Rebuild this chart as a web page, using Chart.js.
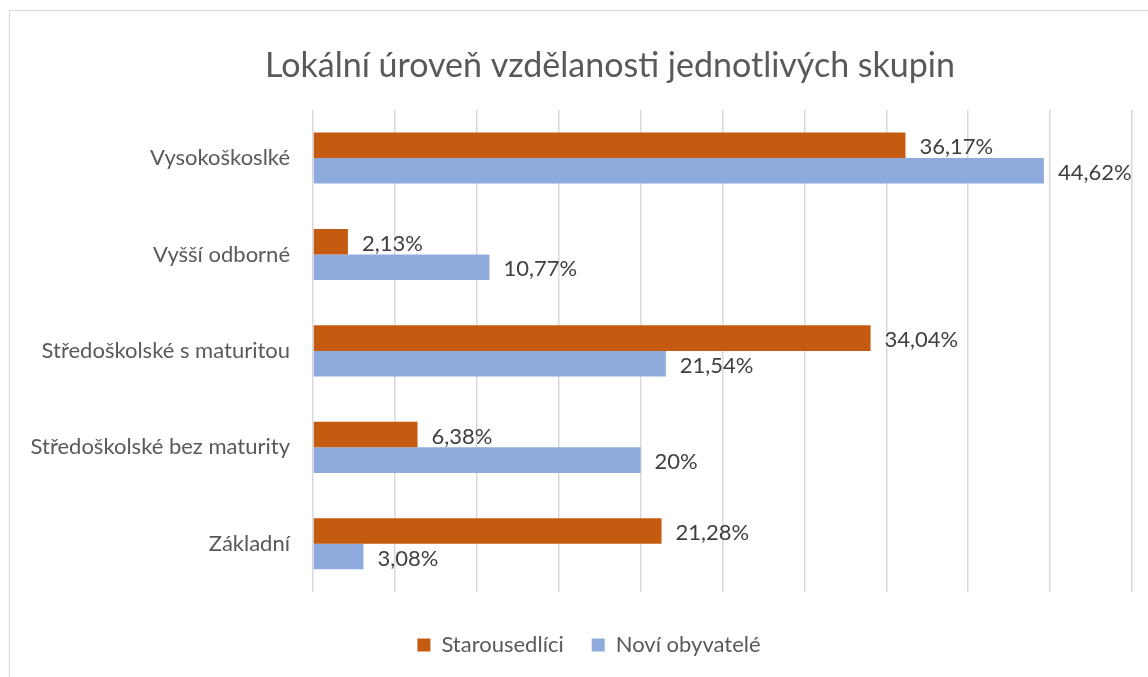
<!DOCTYPE html>
<html>
<head>
<meta charset="utf-8">
<script src="https://cdn.jsdelivr.net/npm/chart.js@4"></script>
<style>
  html, body { margin: 0; padding: 0; background: #fff; overflow: hidden; }
  #wrap { position: relative; width: 1148px; height: 677px; }
  #frame { position: absolute; left: 9px; top: 10px; width: 1200px; height: 700px; border: 1px solid #d9d9d9; box-sizing: border-box; }
  canvas { position: absolute; left: 0; top: 0; }
</style>
</head>
<body>
<div id="wrap">
  <div id="frame"></div>
  <canvas id="educationChart" width="1148" height="677"></canvas>
</div>
<script>
var categories = [
  "Vysokoškoslké",
  "Vyšší odborné",
  "Středoškolské s maturitou",
  "Středoškolské bez maturity",
  "Základní",
];
var oldResidents = [36.17, 2.13, 34.04, 6.38, 21.28];
var newResidents = [44.62, 10.77, 21.54, 20, 3.08];
var seriesNames = ["Starousedlíci", "Noví obyvatelé"];
var seriesColors = ["#c55a11", "#8faadc"];

var fontFamily = "Lato, 'Open Sans', sans-serif";

function formatPercent(value) {
  return String(value).replace(".", ",") + "%";
}

// draws the value next to the end of each bar
const barValueLabels = {
  id: "barValueLabels",
  afterDatasetsDraw(chart) {
    const ctx = chart.ctx;
    ctx.save();
    ctx.font = "22px " + fontFamily;
    ctx.fillStyle = "#404040";
    ctx.textAlign = "left";
    ctx.textBaseline = "middle";
    chart.data.datasets.forEach((dataset, i) => {
      const meta = chart.getDatasetMeta(i);
      meta.data.forEach((bar, j) => {
        ctx.fillText(formatPercent(dataset.data[j]), bar.x + 14, bar.y + 2);
      });
    });
    ctx.restore();
  },
};

// title and legend sit a bit right of the canvas centre in the original
const nudgeBoxes = {
  id: "nudgeBoxes",
  afterLayout(chart) {
    chart.titleBlock.left += 44;
    chart.titleBlock.right += 44;
    chart.legend.left += 23;
    chart.legend.right += 23;
  },
};

new Chart("educationChart", {
  type: "bar",
  data: {
    labels: categories,
    datasets: [
      {
        label: seriesNames[0],
        data: oldResidents,
        backgroundColor: seriesColors[0],
        borderWidth: 0,
        barPercentage: 1,
        categoryPercentage: 0.53,
      },
      {
        label: seriesNames[1],
        data: newResidents,
        backgroundColor: seriesColors[1],
        borderWidth: 0,
        barPercentage: 1,
        categoryPercentage: 0.53,
      },
    ],
  },
  options: {
    indexAxis: "y",
    responsive: false,
    animation: false,
    layout: { padding: { left: 0, right: 16, top: 0, bottom: 11 } },
    scales: {
      x: {
        min: 0,
        max: 50,
        ticks: { display: false, stepSize: 5 },
        grid: { color: "#d9d9d9", lineWidth: 1.5, drawTicks: false },
        border: { display: false },
        afterFit(scale) {
          scale.height = 14;
        },
      },
      y: {
        grid: { display: false, drawTicks: false },
        border: { display: false },
        ticks: {
          color: "#595959",
          padding: 23,
          font: { family: fontFamily, size: 22 },
        },
        afterFit(scale) {
          scale.width = 313;
        },
      },
    },
    plugins: {
      title: {
        display: true,
        text: "Lokální úroveň vzdělanosti jednotlivých skupin",
        color: "#595959",
        font: { family: fontFamily, size: 34, weight: "normal" },
        padding: { top: 46, bottom: 23 },
      },
      legend: {
        position: "bottom",
        labels: {
          color: "#595959",
          boxWidth: 13,
          boxHeight: 13,
          padding: 28,
          font: { family: fontFamily, size: 22 },
        },
      },
      tooltip: { enabled: false },
    },
  },
  plugins: [barValueLabels, nudgeBoxes],
});
</script>
</body>
</html>
